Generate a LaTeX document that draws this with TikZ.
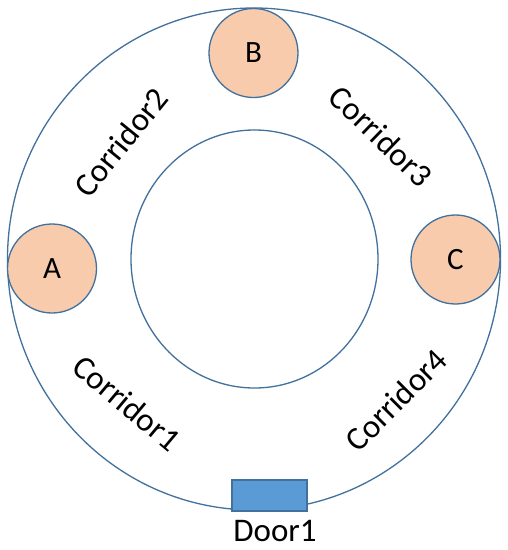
\documentclass[tikz,border=0pt]{standalone}
\usepackage{fontspec}
\setmainfont{Carlito}
\definecolor{edgeblue}{RGB}{65,113,156}
\definecolor{roomfill}{RGB}{248,203,173}
\definecolor{doorfill}{RGB}{91,155,213}
\begin{document}
\begin{tikzpicture}[x=1pt,y=-1pt,
  wall/.style={draw=edgeblue,line width=1.3pt},
  room/.style={circle,draw=edgeblue,line width=1.3pt,fill=roomfill,minimum size=89pt,inner sep=0pt,font=\fontsize{31}{31}\selectfont},
  corr/.style={font=\fontsize{33}{33}\selectfont,inner sep=0pt},
  door/.style={rectangle,draw=edgeblue,line width=1.1pt,fill=doorfill,minimum width=75pt,minimum height=31pt,inner sep=0pt}]
\useasboundingbox (0,0) rectangle (508,550);
\fill[white] (0,0) rectangle (508,550);
\draw[wall] (254,259) ellipse [x radius=246.5, y radius=251];
\draw[wall] (254.5,259) ellipse [x radius=123.5, y radius=129];
\node[room] (B) at (253.5,53) {B};
\node[room] (A) at (52,268.5) {A};
\node[room] (C) at (455.5,259.5) {C};
\node[door] (door) at (269.5,495.5) {};
\node[anchor=base,font=\fontsize{33}{33}\selectfont,inner sep=0pt] (doorlabel) at (275,541) {Door1};
\node[corr,rotate=51] (c2) at (121,142) {Corridor2};
\node[corr,rotate=-44] (c3) at (381,136) {Corridor3};
\node[corr,rotate=-40] (c1) at (127,403) {Corridor1};
\node[corr,rotate=45] (c4) at (396,400) {Corridor4};
\end{tikzpicture}
\end{document}
